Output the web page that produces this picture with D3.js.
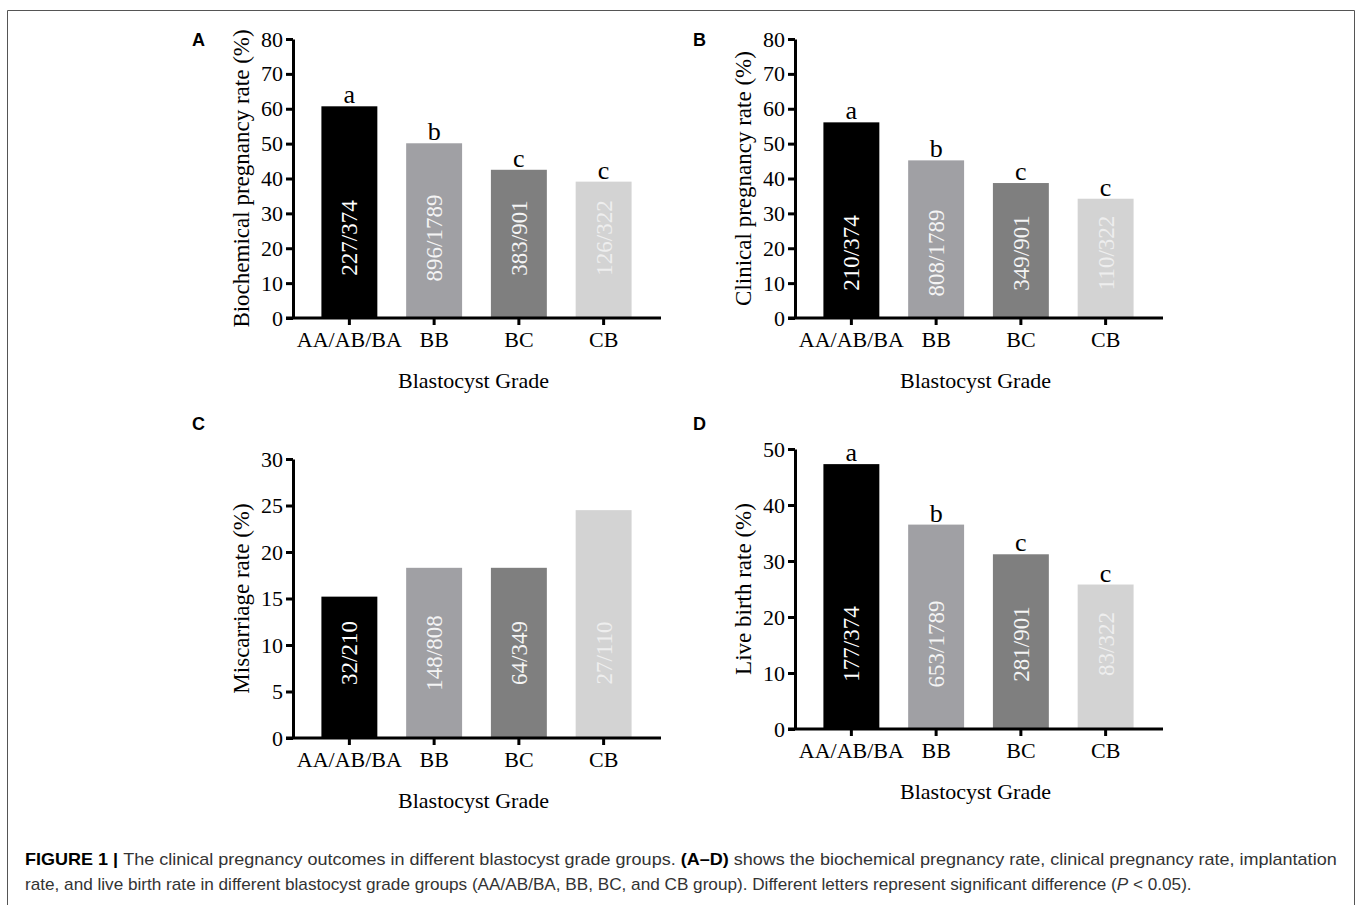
<!DOCTYPE html>
<html>
<head>
<meta charset="utf-8">
<script src="https://cdn.jsdelivr.net/npm/d3@7"></script>
<style>
  body { margin: 0; background: #fff; }
  svg { display: block; }
  .serif { font-family: "Liberation Serif", "Times New Roman", serif; }
</style>
</head>
<body>
<svg id="fig" width="1360" height="905"></svg>
<script>
// data
var grades = ["AA/AB/BA", "BB", "BC", "CB"];
var barColors = ["#000000", "#a0a0a4", "#7f7f7f", "#d3d3d3"];
var textColors = ["#ffffff", "#f4f4f4", "#f4f4f4", "#eeeeee"];

var biochemRate = [60.7, 50.1, 42.5, 39.1];
var biochemFrac = ["227/374", "896/1789", "383/901", "126/322"];
var biochemSig = ["a", "b", "c", "c"];

var clinicalRate = [56.1, 45.2, 38.7, 34.2];
var clinicalFrac = ["210/374", "808/1789", "349/901", "110/322"];
var clinicalSig = ["a", "b", "c", "c"];

var miscarriageRate = [15.2, 18.3, 18.3, 24.5];
var miscarriageFrac = ["32/210", "148/808", "64/349", "27/110"];
var miscarriageSig = ["", "", "", ""];

var liveBirthRate = [47.3, 36.5, 31.2, 25.8];
var liveBirthFrac = ["177/374", "653/1789", "281/901", "83/322"];
var liveBirthSig = ["a", "b", "c", "c"];

var yTicksA = [0, 10, 20, 30, 40, 50, 60, 70, 80];
var yTicksC = [0, 5, 10, 15, 20, 25, 30];
var yTicksD = [0, 10, 20, 30, 40, 50];

function init(){

    var svg = d3.select("svg#fig");

    // thin frame around the figure (open at the bottom)
    svg.append("path")
      .attr("d", "M7.5,905 L7.5,10.5 L1354.5,10.5 L1354.5,905")
      .attr("fill", "none")
      .attr("stroke", "#555")
      .attr("stroke-width", 1);

    var panels = [
      { letter: "A", lx: 192, ly: 46, x0: 293, top: 39, bottom: 318, ticks: yTicksA,
        values: biochemRate, fracs: biochemFrac, sig: biochemSig, labelY: 238,
        title: "Biochemical pregnancy rate (%)" },
      { letter: "B", lx: 693, ly: 46, x0: 795, top: 39, bottom: 318, ticks: yTicksA,
        values: clinicalRate, fracs: clinicalFrac, sig: clinicalSig, labelY: 253,
        title: "Clinical pregnancy rate (%)" },
      { letter: "C", lx: 192, ly: 430, x0: 293, top: 459, bottom: 738, ticks: yTicksC,
        values: miscarriageRate, fracs: miscarriageFrac, sig: miscarriageSig, labelY: 653,
        title: "Miscarriage rate (%)" },
      { letter: "D", lx: 693, ly: 430, x0: 795, top: 449, bottom: 729, ticks: yTicksD,
        values: liveBirthRate, fracs: liveBirthFrac, sig: liveBirthSig, labelY: 644,
        title: "Live birth rate (%)" }
    ];

    panels.forEach(create_panel);

    function create_panel(p){
        var g = svg.append("g");
        var axisEnd = p.x0 + 368;

        var y = d3.scaleLinear()
          .domain([0, d3.max(p.ticks)])
          .range([p.bottom, p.top]);

        var x = d3.scaleBand()
          .domain(grades)
          .range([p.x0 + 14, p.x0 + 353])
          .paddingInner(0.34)
          .paddingOuter(0.17);

        // panel letter
        svg.append("text")
          .attr("x", p.lx)
          .attr("y", p.ly)
          .style("font", "bold 18px 'Liberation Sans', Arial, sans-serif")
          .text(p.letter);

        // bars
        g.selectAll("rect.bar")
          .data(p.values)
          .enter().append("rect")
            .attr("class", "bar")
            .attr("x", function(d, i){ return x(grades[i]); })
            .attr("y", function(d){ return y(d); })
            .attr("width", x.bandwidth())
            .attr("height", function(d){ return y(0) - y(d); })
            .attr("fill", function(d, i){ return barColors[i]; });

        // fraction labels inside bars
        g.selectAll("text.frac")
          .data(p.fracs)
          .enter().append("text")
            .attr("class", "frac serif")
            .attr("transform", function(d, i){
                return "translate(" + (x(grades[i]) + x.bandwidth() / 2) + "," + p.labelY + ") rotate(-90)";
            })
            .attr("text-anchor", "middle")
            .attr("dy", "0.35em")
            .style("font-size", "23px")
            .attr("fill", function(d, i){ return textColors[i]; })
            .text(function(d){ return d; });

        // significance letters
        g.selectAll("text.sig")
          .data(p.sig)
          .enter().append("text")
            .attr("class", "sig serif")
            .attr("x", function(d, i){ return x(grades[i]) + x.bandwidth() / 2; })
            .attr("y", function(d, i){ return y(p.values[i]) - 3; })
            .attr("text-anchor", "middle")
            .style("font-size", "26px")
            .text(function(d){ return d; });

        // y axis
        var yAxis = d3.axisLeft(y)
          .tickValues(p.ticks)
          .tickSize(7)
          .tickSizeOuter(0)
          .tickPadding(3);

        var ya = g.append("g")
          .attr("transform", "translate(" + p.x0 + ",0)")
          .call(yAxis);
        ya.select(".domain").attr("stroke-width", 3).attr("stroke", "#000");
        ya.selectAll(".tick line").attr("stroke-width", 3).attr("stroke", "#000");
        ya.selectAll(".tick text")
          .attr("class", "serif")
          .style("font-size", "22px")
          .attr("fill", "#000");

        // x axis line, drawn across past the y axis
        g.append("line")
          .attr("x1", p.x0 - 7)
          .attr("x2", axisEnd)
          .attr("y1", y(0))
          .attr("y2", y(0))
          .attr("stroke", "#000")
          .attr("stroke-width", 3);

        var xa = g.append("g")
          .attr("transform", "translate(0," + y(0) + ")")
          .call(d3.axisBottom(x).tickSize(7).tickSizeOuter(0).tickPadding(6));
        xa.select(".domain").remove();
        xa.selectAll(".tick line").attr("stroke-width", 3).attr("stroke", "#000");
        xa.selectAll(".tick text")
          .attr("class", "serif")
          .style("font-size", "22px")
          .attr("fill", "#000");

        // axis titles
        g.append("text")
          .attr("class", "serif")
          .attr("transform", "translate(" + (p.x0 - 44) + "," + ((p.top + p.bottom) / 2) + ") rotate(-90)")
          .attr("text-anchor", "middle")
          .style("font-size", "23px")
          .text(p.title);

        g.append("text")
          .attr("class", "serif")
          .attr("x", (p.x0 - 7 + axisEnd) / 2)
          .attr("y", y(0) + 70)
          .attr("text-anchor", "middle")
          .style("font-size", "22px")
          .text("Blastocyst Grade");
    }

    // caption: two lines, stretched horizontally to the widths in the figure
    function caption_line(yPos, width, parts){
        var t = svg.append("text")
          .attr("y", 0)
          .style("font", "16px 'Liberation Sans', Arial, sans-serif")
          .attr("fill", "#333");
        parts.forEach(function(pt){
            var s = t.append("tspan").text(pt.text);
            if (pt.bold) s.style("font-weight", "bold").attr("fill", "#000");
            if (pt.italic) s.style("font-style", "italic");
        });
        var w = t.node().getComputedTextLength();
        t.attr("transform", "translate(25," + yPos + ") scale(" + (width / w) + ",1)");
    }

    caption_line(865, 1313, [
      { text: "FIGURE 1 | ", bold: true },
      { text: "The clinical pregnancy outcomes in different blastocyst grade groups. " },
      { text: "(A–D)", bold: true },
      { text: " shows the biochemical pregnancy rate, clinical pregnancy rate, implantation" }
    ]);
    caption_line(890, 1168, [
      { text: "rate, and live birth rate in different blastocyst grade groups (AA/AB/BA, BB, BC, and CB group). Different letters represent significant difference (" },
      { text: "P", italic: true },
      { text: " < 0.05)." }
    ]);
}

init();
</script>
</body>
</html>
